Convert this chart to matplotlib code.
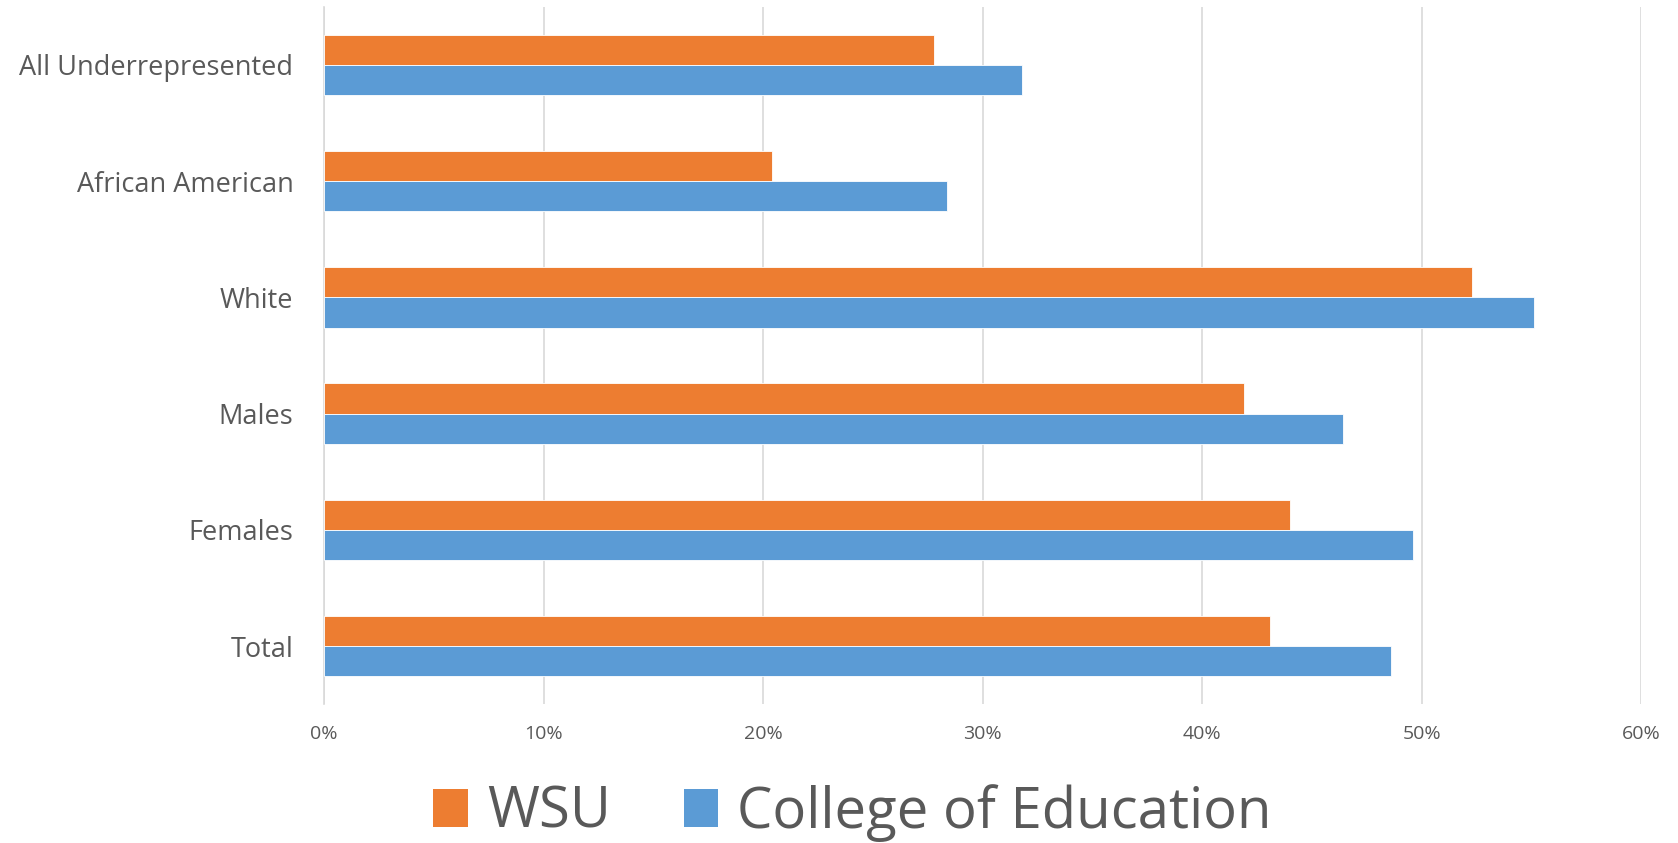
import numpy as np
import matplotlib
matplotlib.use("Agg")
import matplotlib.pyplot as plt
from matplotlib.patches import Patch
from matplotlib.ticker import PercentFormatter

# ---------------------------------------------------------------------------
# Data (top to bottom)
# ---------------------------------------------------------------------------
categories = ["All Underrepresented", "African American", "White",
              "Males", "Females", "Total"]
wsu = [27.8, 20.4, 52.3, 41.9, 44.0, 43.1]
college_of_education = [31.8, 28.4, 55.1, 46.4, 49.6, 48.6]
x_ticks = [0, 10, 20, 30, 40, 50, 60]

ORANGE = "#ED7D31"
BLUE = "#5B9BD5"
TEXT = "#595959"
GRID = "#D9D9D9"

plt.rcParams["font.family"] = ["Open Sans", "DejaVu Sans"]

fig = plt.figure(figsize=(16.78, 8.43), dpi=100)
ax = fig.add_axes([0.1931, 0.1645, 0.7849, 0.8275])

y = np.arange(len(categories))
h = 0.26
ax.barh(y - h / 2, wsu, height=h, color=ORANGE, edgecolor="white",
        linewidth=0.6, zorder=3)
ax.barh(y + h / 2, college_of_education, height=h, color=BLUE,
        edgecolor="white", linewidth=0.6, zorder=3)

ax.set_ylim(len(categories) - 0.5, -0.5)
ax.set_xlim(0, 60)
ax.set_yticks(y)
ax.set_yticklabels(categories, fontsize=19.5, color=TEXT)
ax.set_xticks(x_ticks)
ax.xaxis.set_major_formatter(PercentFormatter(decimals=0))
ax.tick_params(axis="x", length=0, pad=15, labelsize=14, labelcolor=TEXT)
ax.tick_params(axis="y", length=0, pad=22)

ax.grid(axis="x", color=GRID, linewidth=1.2, zorder=0)
for side in ["top", "right", "bottom"]:
    ax.spines[side].set_visible(False)
ax.spines["left"].set_color(GRID)
ax.spines["left"].set_linewidth(1.2)

handles = [Patch(facecolor=ORANGE, label="WSU"),
           Patch(facecolor=BLUE, label="College of Education")]
fig.legend(handles=handles, loc="center", bbox_to_anchor=(0.508, 0.036),
           ncol=2, frameon=False, fontsize=40.5, labelcolor=TEXT,
           handlelength=0.61, handleheight=0.68, handletextpad=0.34,
           columnspacing=1.3, borderaxespad=0, borderpad=0)

fig.savefig("out.png", dpi=100)
